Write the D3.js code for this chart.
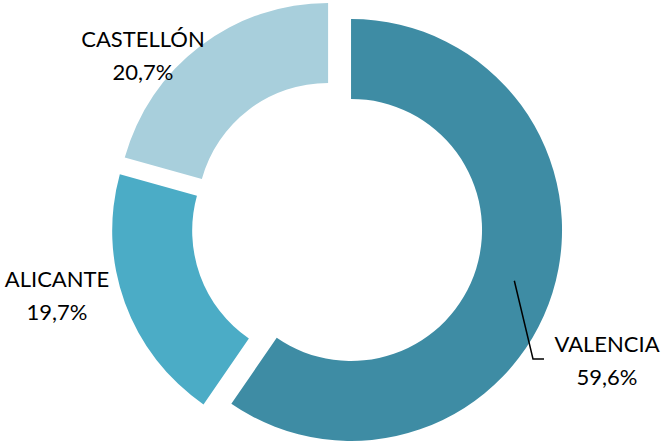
<!DOCTYPE html>
<html>
<head>
<meta charset="utf-8">
<script src="https://cdn.jsdelivr.net/npm/d3@7"></script>
<style>
  body { margin: 0; background: #fff; }
  svg { display: block; }
</style>
</head>
<body>
<svg width="662" height="441"></svg>
<script>
// data
var provinces = ["VALENCIA", "ALICANTE", "CASTELLÓN"];
var shares = [59.6, 19.7, 20.7];
var labels = ["59,6%", "19,7%", "20,7%"];
var colors = ["#3e8ca4", "#4bacc6", "#a8cfdc"];

var svg = d3.select("svg"),
    cx = 337, cy = 225.6,
    outerR = 211, innerR = 131,
    explode = 14.7;

var pie = d3.pie().sort(null).value(function(d) { return d; });
var arc = d3.arc().innerRadius(innerR).outerRadius(outerR);
var arcs = pie(shares);

var g = svg.append("g").attr("transform", "translate(" + cx + "," + cy + ")");

function shift(d) {
  var a = (d.startAngle + d.endAngle) / 2;
  return [explode * Math.sin(a), -explode * Math.cos(a)];
}

g.selectAll(".slice")
  .data(arcs)
  .enter().append("path")
    .attr("class", "slice")
    .attr("transform", function(d) { var s = shift(d); return "translate(" + s[0] + "," + s[1] + ")"; })
    .attr("d", arc)
    .style("fill", function(d, i) { return colors[i]; });

// label anchors (text block centres, relative to chart centre)
var labelAt = [[270, 135], [-280, 70], [-194, -170]];

var lab = g.selectAll(".lab")
  .data(arcs)
  .enter().append("text")
    .attr("class", "lab")
    .attr("text-anchor", "middle")
    .style("font", "22px Lato, sans-serif")
    .style("fill", "#000");

lab.append("tspan")
    .attr("x", function(d, i) { return labelAt[i][0]; })
    .attr("y", function(d, i) { return labelAt[i][1] - 16.5; })
    .attr("dy", "0.35em")
    .text(function(d, i) { return provinces[i]; });
lab.append("tspan")
    .attr("x", function(d, i) { return labelAt[i][0]; })
    .attr("y", function(d, i) { return labelAt[i][1] + 16.5; })
    .attr("dy", "0.35em")
    .text(function(d, i) { return labels[i]; });

// leader line for VALENCIA
var v = arcs[0], vs = shift(v), c = arc.centroid(v);
var p0 = [c[0] + vs[0], c[1] + vs[1]];
g.append("polyline")
    .attr("points", [p0, [196, 133.4], [207, 133.4]].map(function(p) { return p.join(","); }).join(" "))
    .style("fill", "none")
    .style("stroke", "#000")
    .style("stroke-width", 1.5);
</script>
</body>
</html>
